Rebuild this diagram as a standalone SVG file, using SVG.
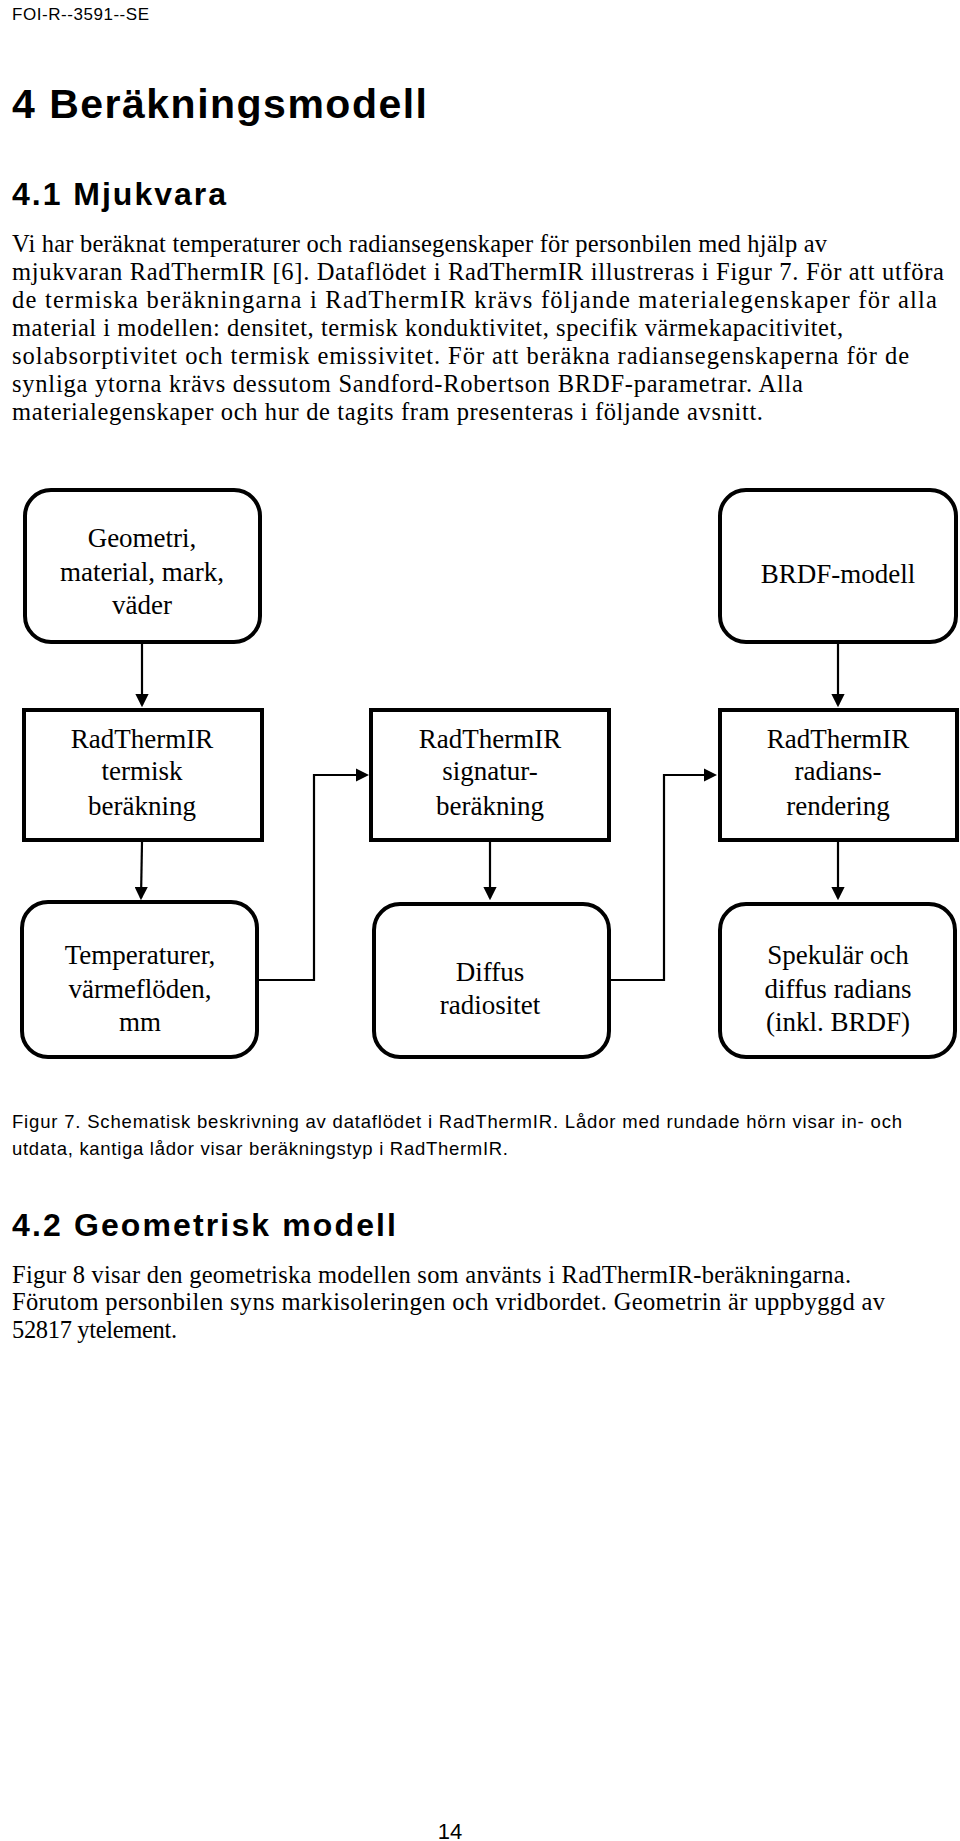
<svg xmlns="http://www.w3.org/2000/svg" width="960" height="1841" viewBox="0 0 960 1841">
<style>
.s{font-family:"Liberation Sans",Arial,sans-serif}
.t{font-family:"Liberation Serif","Times New Roman",serif;font-size:24.5px}
.n{font-family:"Liberation Serif","Times New Roman",serif;font-size:27px;text-anchor:middle}
.b{fill:#fff;stroke:#000;stroke-width:4}
.c{fill:none;stroke:#000;stroke-width:2.2}
</style>
<defs><marker id="a" markerWidth="6" markerHeight="6" refX="5" refY="3" orient="auto" markerUnits="strokeWidth"><path d="M0,0 L6,3 L0,6 z"/></marker></defs>
<rect width="960" height="1841" fill="#fff"/>
<text class="s" x="12" y="20" font-size="17" textLength="137">FOI-R--3591--SE</text>
<text class="s" x="12" y="118" font-size="41" font-weight="bold" textLength="415">4  Beräkningsmodell</text>
<text class="s" x="12" y="205" font-size="32" font-weight="bold" textLength="214">4.1  Mjukvara</text>
<text class="t" x="12" y="252" textLength="815">Vi har beräknat temperaturer och radiansegenskaper för personbilen med hjälp av</text>
<text class="t" x="12" y="280" textLength="932">mjukvaran RadThermIR [6]. Dataflödet i RadThermIR illustreras i Figur 7. För att utföra</text>
<text class="t" x="12" y="308" textLength="925">de termiska beräkningarna i RadThermIR krävs följande materialegenskaper för alla</text>
<text class="t" x="12" y="336" textLength="831">material i modellen: densitet, termisk konduktivitet, specifik värmekapacitivitet,</text>
<text class="t" x="12" y="364" textLength="897">solabsorptivitet och termisk emissivitet. För att beräkna radiansegenskaperna för de</text>
<text class="t" x="12" y="392" textLength="791">synliga ytorna krävs dessutom Sandford-Robertson BRDF-parametrar. Alla</text>
<text class="t" x="12" y="420" textLength="751">materialegenskaper och hur de tagits fram presenteras i följande avsnitt.</text>
<g id="connectors">
<path class="c" d="M142,644 V705" marker-end="url(#a)"/>
<path class="c" d="M838,644 V705" marker-end="url(#a)"/>
<path class="c" d="M142,842 L141,898" marker-end="url(#a)"/>
<path class="c" d="M490,842 V898" marker-end="url(#a)"/>
<path class="c" d="M838,842 V898" marker-end="url(#a)"/>
<path class="c" d="M259,980 H314 V775 H367" marker-end="url(#a)"/>
<path class="c" d="M611,980 H664 V775 H715" marker-end="url(#a)"/>
</g>
<g id="n1"><rect class="b" x="25" y="490" width="235" height="152" rx="26"/><text class="n"><tspan x="142" y="547">Geometri,</tspan><tspan x="142" y="581">material, mark,</tspan><tspan x="142" y="614">väder</tspan></text></g>
<g id="n2"><rect class="b" x="720" y="490" width="236" height="152" rx="26"/><text class="n" x="838" y="583">BRDF-modell</text></g>
<g id="n3"><rect class="b" x="24" y="710" width="238" height="130"/><text class="n"><tspan x="142" y="748">RadThermIR</tspan><tspan x="142" y="780">termisk</tspan><tspan x="142" y="815">beräkning</tspan></text></g>
<g id="n4"><rect class="b" x="371" y="710" width="238" height="130"/><text class="n"><tspan x="490" y="748">RadThermIR</tspan><tspan x="490" y="780">signatur-</tspan><tspan x="490" y="815">beräkning</tspan></text></g>
<g id="n5"><rect class="b" x="720" y="710" width="237" height="130"/><text class="n"><tspan x="838" y="748">RadThermIR</tspan><tspan x="838" y="780">radians-</tspan><tspan x="838" y="815">rendering</tspan></text></g>
<g id="n6"><rect class="b" x="22" y="902" width="235" height="155" rx="26"/><text class="n"><tspan x="140" y="964">Temperaturer,</tspan><tspan x="140" y="998">värmeflöden,</tspan><tspan x="140" y="1031">mm</tspan></text></g>
<g id="n7"><rect class="b" x="374" y="904" width="235" height="153" rx="26"/><text class="n"><tspan x="490" y="981">Diffus</tspan><tspan x="490" y="1014">radiositet</tspan></text></g>
<g id="n8"><rect class="b" x="720" y="904" width="235" height="153" rx="26"/><text class="n"><tspan x="838" y="964">Spekulär och</tspan><tspan x="838" y="998">diffus radians</tspan><tspan x="838" y="1031">(inkl. BRDF)</tspan></text></g>
<text class="s" x="12" y="1128" font-size="18.5" textLength="890">Figur 7. Schematisk beskrivning av dataflödet i RadThermIR. Lådor med rundade hörn visar in- och</text>
<text class="s" x="12" y="1155" font-size="18.5" textLength="496">utdata, kantiga lådor visar beräkningstyp i RadThermIR.</text>
<text class="s" x="12" y="1236" font-size="32" font-weight="bold" textLength="384">4.2  Geometrisk modell</text>
<text class="t" x="12" y="1283" textLength="839">Figur 8 visar den geometriska modellen som använts i RadThermIR-beräkningarna.</text>
<text class="t" x="12" y="1310" textLength="873">Förutom personbilen syns markisoleringen och vridbordet. Geometrin är uppbyggd av</text>
<text class="t" x="12" y="1338" textLength="165">52817 ytelement.</text>
<text class="s" x="450" y="1839" font-size="22" text-anchor="middle">14</text>
</svg>
